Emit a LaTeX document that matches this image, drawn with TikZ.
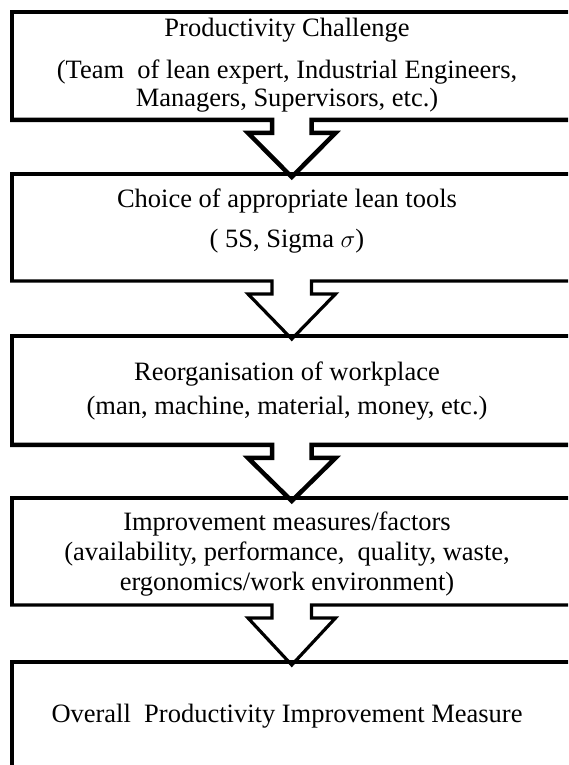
\documentclass[tikz,border=0pt]{standalone}
\usepackage{fontspec}
\setmainfont{Liberation Serif}
\usetikzlibrary{calc}

% Block arrow leaving the bottom edge of box #1 and pointing into box #2;
% the bottom edge of #1 is drawn in the same stroke, with width #3.
\newcommand\flowarrow[3]{%
  \coordinate (#1L) at ($(#1.south west)+(260,0)$);
  \coordinate (#1R) at ($(#1.south west)+(299.5,0)$);
  \coordinate (#1T) at ($(#2.north west)+(279.75,-3)$);
  \draw[line width=#3, line join=miter, miter limit=20]
    ($(#1.south west)+(-2,0)$) -- (#1L) -- ($(#1L)+(0,-13)$)
    -- ($(#1L)+(-24,-13)$) -- (#1T) -- ($(#1R)+(24,-13)$)
    -- ($(#1R)+(0,-13)$) -- (#1R) -- (#1.south east);
}

\begin{document}
\begin{tikzpicture}[x=1pt,y=1pt,
  boxgeom/.style={rectangle, draw=none, outer sep=0pt, inner sep=0pt,
                  anchor=north west, minimum width=600pt},
  frame/.style={line width=4.5pt, line join=miter},
  txt/.style={anchor=base, inner sep=0pt,
              font=\fontsize{26.5}{29}\selectfont}]
\useasboundingbox (0,0) rectangle (568,765);
\clip (0,0) rectangle (568,765);
\fill[white] (0,0) rectangle (568,765);

% box geometry
\node[boxgeom, minimum height=108pt] (b1) at (12,753) {};
\node[boxgeom, minimum height=107pt] (b2) at (12,591) {};
\node[boxgeom, minimum height=109pt] (b3) at (12,429) {};
\node[boxgeom, minimum height=107pt] (b4) at (12,267) {};
\node[boxgeom, minimum height=140pt] (b5) at (12,103) {};

% left and top edges
\foreach \b in {b1,b2,b3,b4,b5}
  \draw[frame] (\b.south west) -- (\b.north west) -- ($(\b.north east)$);

% bottom edges with the connecting arrows
\flowarrow{b1}{b2}{4.5pt}
\flowarrow{b2}{b3}{3.2pt}
\flowarrow{b3}{b4}{4.5pt}
\flowarrow{b4}{b5}{3.2pt}

% texts
\node[txt] (t1a) at (287,728) {Productivity Challenge};
\node[txt] (t1b) at (287,686) {(Team\ \ of lean expert, Industrial Engineers,};
\node[txt] (t1c) at (287,658) {Managers, Supervisors, etc.)};

\node[txt] (t2a) at (287,557) {Choice of appropriate lean tools};
\node[txt] (t2b) at (287,517) {( 5S, Sigma $\sigma$)};

\node[txt] (t3a) at (287,384) {Reorganisation of workplace};
\node[txt] (t3b) at (287,350) {(man, machine, material,\ money, etc.)};

\node[txt] (t4a) at (287,234) {Improvement measures/factors};
\node[txt] (t4b) at (287,204) {(availability, performance,\ \ quality, waste,};
\node[txt] (t4c) at (287,174) {ergonomics/work environment)};

\node[txt] (t5a) at (287,42) {Overall\ \ Productivity Improvement Measure};
\end{tikzpicture}
\end{document}
